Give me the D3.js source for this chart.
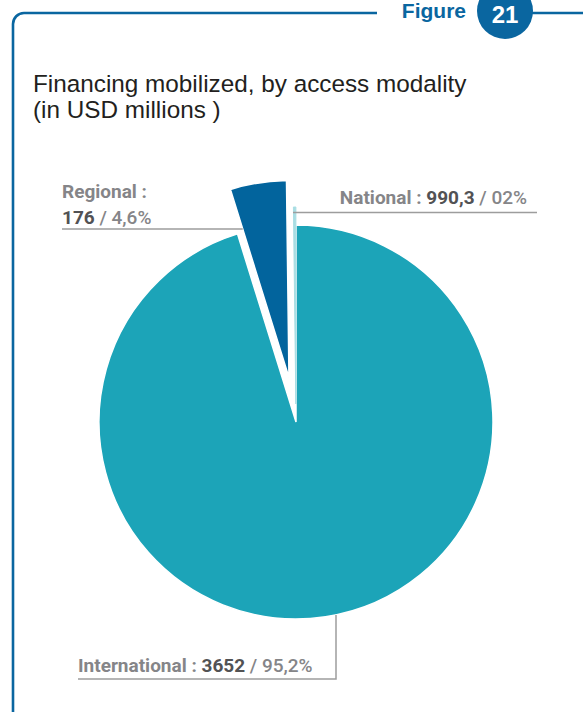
<!DOCTYPE html>
<html>
<head>
<meta charset="utf-8">
<script src="https://cdn.jsdelivr.net/npm/d3@7"></script>
<style>
  body { margin: 0; background: #fff; }
  svg { display: block; }
</style>
</head>
<body>
<div id="chart"></div>
<script>
// data
var categories = ["International", "Regional", "National"];
var amounts = ["3652", "176", "990,3"];
var shareLabels = ["95,2%", "4,6%", "02%"];
var shares = [95.2, 4.6, 0.2];
var explode = [0, 45, 18];

var width = 583, height = 713;
var frameColor = "#0a66a0";
var color = d3.scaleOrdinal()
    .domain(categories)
    .range(["#1ca4b8", "#02649d", "#a8dde3"]);

var svg = d3.select("#chart").append("svg")
    .attr("width", width)
    .attr("height", height);

// frame with rounded top-left corner
var frame = d3.path();
frame.moveTo(13, 712);
frame.lineTo(13, 24);
frame.arcTo(13, 13, 24, 13, 11);
frame.lineTo(377, 13);
svg.append("path")
    .attr("d", frame.toString())
    .attr("fill", "none")
    .attr("stroke", frameColor)
    .attr("stroke-width", 2.6);
svg.append("line")
    .attr("x1", 530).attr("x2", width)
    .attr("y1", 13).attr("y2", 13)
    .attr("stroke", frameColor)
    .attr("stroke-width", 2.6);

svg.append("text")
    .attr("x", 466).attr("y", 18)
    .attr("text-anchor", "end")
    .attr("font-family", "Liberation Sans, Arial, sans-serif")
    .attr("font-weight", "bold")
    .attr("font-size", 21)
    .attr("fill", frameColor)
    .text("Figure");
svg.append("circle")
    .attr("cx", 505).attr("cy", 11).attr("r", 28)
    .attr("fill", frameColor);
svg.append("text")
    .attr("x", 505).attr("y", 23)
    .attr("text-anchor", "middle")
    .attr("font-family", "Liberation Sans, Arial, sans-serif")
    .attr("font-weight", "bold")
    .attr("font-size", 24)
    .attr("fill", "#fff")
    .text("21");

// title
var title = svg.append("text")
    .attr("font-family", "Liberation Sans, Arial, Helvetica, sans-serif")
    .attr("font-size", 24.3)
    .attr("fill", "#231f20");
title.append("tspan").attr("x", 33).attr("y", 92)
    .text("Financing mobilized, by access modality");
title.append("tspan").attr("x", 33).attr("y", 118)
    .text("(in USD millions )");

// pie
var cx = 296, cy = 422, radius = 197;
var pie = d3.pie().sort(null).value(function(d) { return d.share; });
var arc = d3.arc().innerRadius(0).outerRadius(radius);

var rows = categories.map(function(c, i) {
    return { name: c, amount: amounts[i], pct: shareLabels[i], share: shares[i], off: explode[i] };
});
var arcs = pie(rows);

var g = svg.append("g").attr("transform", "translate(" + cx + "," + cy + ")");
g.selectAll("path")
    .data(arcs)
    .enter().append("path")
    .attr("d", arc)
    .attr("fill", function(d) { return color(d.data.name); })
    .attr("stroke", function(d, i) { return i === 2 ? color(d.data.name) : "#fff"; })
    .attr("stroke-width", function(d, i) { return i === 2 ? 1 : 1.5; })
    .attr("transform", function(d) {
        var a = (d.startAngle + d.endAngle) / 2;
        return "translate(" + (Math.sin(a) * d.data.off) + "," + (-Math.cos(a) * d.data.off) + ")";
    });

// labels
var lineColor = "#9d9d9d";
var font = "Roboto, 'Liberation Sans', Arial, sans-serif";
function label(x, y, anchor, parts) {
    var t = svg.append("text")
        .attr("x", x).attr("y", y)
        .attr("text-anchor", anchor)
        .attr("font-family", font)
        .attr("font-size", 19);
    parts.forEach(function(p) {
        t.append("tspan")
            .attr("font-weight", p[1])
            .attr("fill", p[2])
            .text(p[0]);
    });
    return t;
}
function leader(pts) {
    svg.append("path")
        .attr("d", d3.line()(pts))
        .attr("fill", "none")
        .attr("stroke", lineColor)
        .attr("stroke-width", 1.5);
}

var nameCol = "#858588", valCol = "#525254", pctCol = "#858588";

// Regional
var reg = arcs[1];
var regA = (reg.startAngle + reg.endAngle) / 2;
var regApex = [cx + Math.sin(regA) * reg.data.off, cy - Math.cos(regA) * reg.data.off];
var regY = 229;
// x where the regional slice's left edge crosses the underline
var regX = regApex[0] + Math.tan(reg.startAngle) * (regApex[1] - regY);
label(62, 198, "start", [[reg.data.name + " :", 700, nameCol]]);
label(62, 224, "start", [[reg.data.amount, 700, valCol], [" / " + reg.data.pct, 500, pctCol]]);
leader([[62, regY], [regX, regY]]);

// National
var nat = arcs[2];
label(527, 204, "end", [[nat.data.name + " : ", 700, nameCol], [nat.data.amount, 700, valCol], [" / " + nat.data.pct, 500, pctCol]]);
leader([[293, 212.5], [537, 212.5]]);

// International
var intl = arcs[0];
var intX = 336;
var intTop = cy + Math.sqrt(radius * radius - (intX - cx) * (intX - cx));
label(78, 672, "start", [[intl.data.name + " : ", 700, nameCol], [intl.data.amount, 700, valCol], [" / " + intl.data.pct, 500, pctCol]]);
leader([[78, 679], [intX, 679], [intX, intTop]]);
</script>
</body>
</html>
